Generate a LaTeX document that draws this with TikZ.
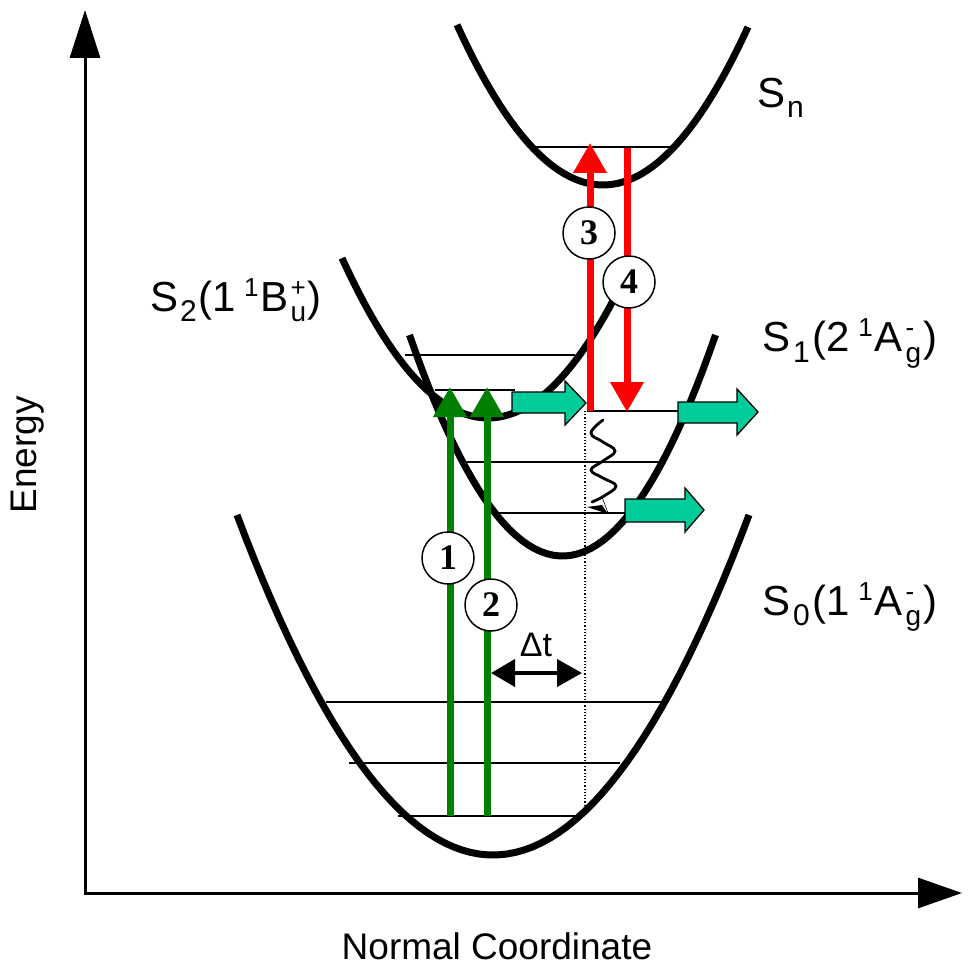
\documentclass[tikz,border=0pt]{standalone}
\usepackage{fontspec}
\setmainfont{Liberation Sans}
\newfontfamily\numfont{Liberation Serif}
\usetikzlibrary{arrows.meta}
\definecolor{grn}{RGB}{0,128,0}
\definecolor{tealc}{RGB}{0,204,153}
\newcommand\mylo[2][30]{\raisebox{-10pt}{\fontsize{#1}{#1}\selectfont #2}}
\newcommand\myhi[1]{\raisebox{15pt}{\fontsize{26}{26}\selectfont #1}}
\newcommand\myhilo[2]{\setbox0\hbox{\myhi{#1}}\setbox2\hbox{\mylo[28]{#2}}\ifdim\wd0>\wd2 \rlap{\box2}\box0\else\rlap{\box0}\box2\fi}
\begin{document}
\begin{tikzpicture}[x=1pt,y=-1pt,
  curve/.style={line width=7pt,black},
  level/.style={line width=1.5pt,black},
  axis/.style={line width=3pt,black},
  garrow/.style={line width=7pt,draw=grn,-{Triangle[length=30pt,width=32pt,fill=grn]}},
  rarrow/.style={line width=7pt,draw=red,-{Triangle[length=30pt,width=32pt,fill=red]}},
  tarrow/.style={draw=black,line width=1.3pt,fill=tealc,line join=miter},
  numc/.style={circle,draw,fill=white,line width=1.5pt,minimum size=52pt,inner sep=0pt,font=\numfont\bfseries\fontsize{36}{36}\selectfont},
  lab/.style={anchor=base west,inner sep=0pt,font=\fontsize{42}{42}\selectfont},
  axlab/.style={inner sep=0pt,font=\fontsize{37}{37}\selectfont}]
\useasboundingbox (0,0) rectangle (971,965);

% axes
\coordinate (o) at (85,893);
\coordinate (ytop) at (85,10);
\coordinate (xo) at (83.5,893);
\coordinate (xend) at (962,893);
\draw[axis,-{Triangle[length=48pt,width=30pt]}] (o) -- (ytop);
\draw[axis,-{Triangle[length=44pt,width=30pt]}] (xo) -- (xend);
\node[axlab,rotate=90] (elab) at (28,455) {Energy};
\node[axlab,anchor=base] (nclab) at (497,959) {Normal Coordinate};

% S0 levels
\draw[level] (326,702) -- (664,702);
\draw[level] (349,763) -- (620,763);
\draw[level] (398,816) -- (577,816);
% S1 levels
\draw[level] (587,411) -- (680,411);
\draw[level] (463,462) -- (660,462);
\draw[level] (497,513) -- (628,513);
% S2 levels
\draw[level] (405,355) -- (575,355);
\draw[level] (435,390) -- (515,390);
% Sn level
\draw[level] (535,147) -- (672,147);

% potential curves
\draw[curve] plot[domain=-256:256,samples=60] ({493+\x},{855-340*(\x/256)^2});
\draw[curve] plot[domain=-153:153,samples=50] ({562.5+\x},{556-221*(\x/153)^2});
\draw[curve] plot[domain=-146:128,samples=50] ({488+\x},{418-75*(\x/100)^2});
\draw[curve] plot[domain=-146:145,samples=50] ({603+\x},{185-158*(\x/145)^2});

% dotted line
\coordinate (d1) at (585,411);
\coordinate (d2) at (585,816);
\draw[line width=1.2pt,dash pattern=on 1.2pt off 2pt] (d1) -- (d2);

% green arrows
\coordinate (g1s) at (450,816); \coordinate (g1e) at (450,387);
\coordinate (g2s) at (487,816); \coordinate (g2e) at (487,387);
\draw[garrow] (g1s) -- (g1e);
\draw[garrow] (g2s) -- (g2e);

% red arrows
\coordinate (r3s) at (590,411); \coordinate (r3e) at (590,143);
\coordinate (r4s) at (627,148); \coordinate (r4e) at (627,412);
\draw[rarrow] (r3s) -- (r3e);
\draw[rarrow] (r4s) -- (r4e);

% teal arrows
\draw[tarrow] (512,392) -- (565,392) -- (565,381) -- (586,403) -- (565,425) -- (565,413) -- (512,413) -- cycle;
\draw[tarrow] (678,402) -- (737,402) -- (737,389) -- (758,412) -- (737,435) -- (737,423) -- (678,423) -- cycle;
\draw[tarrow] (625,499) -- (685,499) -- (685,488) -- (704,510) -- (685,532) -- (685,522) -- (625,522) -- cycle;

% wavy relaxation
\draw[line width=2.8pt,line cap=round] plot[smooth,tension=0.7] coordinates {(603,420) (591,433) (603,442) (615,451) (603,461) (591,470) (603,478) (616,486) (604,496) (592,502)};
\draw[line width=0.6pt] (602,497) -- (608,513);
\fill (587,507) -- (608,514) -- (602,505) -- cycle;

% delta t
\coordinate (dt1) at (491,673);
\coordinate (dt2) at (582,673);
\draw[line width=4pt,{Triangle[length=24pt,width=27pt]}-{Triangle[length=25pt,width=27pt]}] (dt1) -- (dt2);
\node[anchor=base,inner sep=0pt,font=\fontsize{34}{34}\selectfont] (dtlab) at (536,656) {Δt};

% numbered circles
\node[numc] (c1) at (448,558) {1};
\node[numc] (c2) at (491,605) {2};
\node[numc] (c3) at (589,233) {3};
\node[numc] (c4) at (629,282) {4};

% state labels
\node[lab] (sn) at (757,108) {S\hspace{2pt}\mylo{n}};
\node[lab] (s2) at (150,312) {S\hspace{2pt}\mylo{2}\hspace{2pt}(1\hspace{8pt}\myhi{1}\hspace{2pt}B\hspace{2pt}\myhilo{+}{u}\hspace{1pt})};
\node[lab] (s1) at (762,352) {S\hspace{3pt}\mylo{1}\hspace{3pt}(2\hspace{8pt}\myhi{1}\hspace{2pt}A\hspace{3pt}\myhilo{-}{g}\hspace{2pt})};
\node[lab] (s0) at (762,615) {S\hspace{3pt}\mylo{0}\hspace{3pt}(1\hspace{8pt}\myhi{1}\hspace{2pt}A\hspace{3pt}\myhilo{-}{g}\hspace{2pt})};
\end{tikzpicture}
\end{document}
